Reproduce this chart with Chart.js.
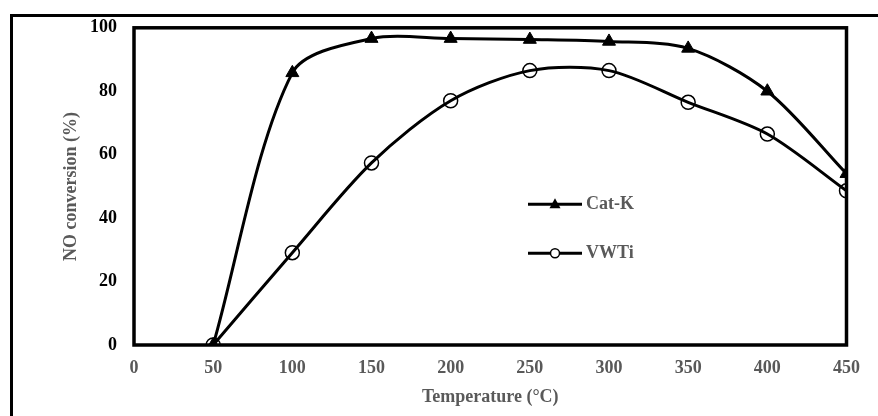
<!DOCTYPE html>
<html>
<head>
<meta charset="utf-8">
<script src="https://cdn.jsdelivr.net/npm/chart.js@4.4.1/dist/chart.umd.min.js"></script>
<style>
  html, body { margin: 0; padding: 0; background: #fff; }
  #wrap { width: 878px; height: 416px; position: relative; }
</style>
</head>
<body>
<div id="wrap"><canvas id="noChart"></canvas></div>
<script>
// Data
const temperatures = [50, 100, 150, 200, 250, 300, 350, 400, 450];
const catK = [0, 85.8, 96.6, 96.6, 96.3, 95.7, 93.5, 80, 54];
const vwti = [0, 29.1, 57.4, 77, 86.5, 86.5, 76.5, 66.5, 48.6];
const seriesNames = ["Cat-K", "VWTi"];
const xTicks = [0, 50, 100, 150, 200, 250, 300, 350, 400, 450];
const yTicks = [0, 20, 40, 60, 80, 100];

const grey = "#595959";
const fontFamily = "'Liberation Serif', 'Times New Roman', serif";

const toPoints = (values) => temperatures.map((t, i) => ({x: t, y: values[i]}));

// Frames: the outer box (cut off on right/bottom) and the plot box
const framePlugin = {
  id: 'frames',
  beforeDatasetsDraw(chart) {
    const ctx = chart.ctx;
    const a = chart.chartArea;
    ctx.save();
    ctx.strokeStyle = '#000';
    ctx.lineWidth = 3;
    ctx.strokeRect(11.5, 15.5, 900, 440);
    ctx.lineWidth = 3.5;
    ctx.strokeRect(a.left, a.top, a.right - a.left, a.bottom - a.top);
    ctx.restore();
  }
};

// Legend inside the plot
const legendPlugin = {
  id: 'innerLegend',
  afterDatasetsDraw(chart) {
    const ctx = chart.ctx;
    const a = chart.chartArea;
    const x0 = a.left + 394;
    const rows = [a.top + 176.5, a.top + 225.5];
    ctx.save();
    chart.data.datasets.forEach(function(ds, i) {
      const y = rows[i];
      ctx.strokeStyle = '#000';
      ctx.lineWidth = 3;
      ctx.beginPath();
      ctx.moveTo(x0, y);
      ctx.lineTo(x0 + 54, y);
      ctx.stroke();
      const cx = x0 + 27;
      if (ds.pointStyle === 'triangle') {
        ctx.fillStyle = '#000';
        ctx.beginPath();
        ctx.moveTo(cx, y - 6);
        ctx.lineTo(cx + 5.5, y + 4);
        ctx.lineTo(cx - 5.5, y + 4);
        ctx.closePath();
        ctx.fill();
      } else {
        ctx.fillStyle = '#fff';
        ctx.lineWidth = 1.5;
        ctx.beginPath();
        ctx.arc(cx, y, 4.5, 0, Math.PI * 2);
        ctx.fill();
        ctx.stroke();
      }
      ctx.fillStyle = grey;
      ctx.font = "bold 18px " + fontFamily;
      ctx.textBaseline = 'middle';
      ctx.fillText(ds.label, x0 + 58, y);
    });
    ctx.restore();
  }
};

const chart = new Chart(document.querySelector('#noChart'), {
  type: 'line',
  data: {
    datasets: [{
      label: seriesNames[0],
      data: toPoints(catK),
      borderColor: '#000',
      borderWidth: 3,
      backgroundColor: '#000',
      pointStyle: 'triangle',
      pointRadius: 7.5,
      pointBorderWidth: 1,
      pointBackgroundColor: '#000',
      pointBorderColor: '#000',
      tension: 0.3
    }, {
      label: seriesNames[1],
      data: toPoints(vwti),
      borderColor: '#000',
      borderWidth: 3,
      backgroundColor: '#fff',
      pointStyle: 'circle',
      pointRadius: 7,
      pointBorderWidth: 1.5,
      pointBackgroundColor: 'rgba(255,255,255,0)',
      pointBorderColor: '#000',
      tension: 0.3
    }]
  },
  options: {
    responsive: true,
    maintainAspectRatio: false,
    animation: false,
    events: [],
    layout: { padding: { top: 26.5, right: 31.5, left: 0, bottom: 0 } },
    plugins: {
      legend: { display: false },
      tooltip: { enabled: false }
    },
    scales: {
      x: {
        type: 'linear',
        min: 0,
        max: 450,
        afterBuildTicks: (scale) => { scale.ticks = xTicks.map(v => ({value: v})); },
        afterFit: (scale) => { scale.height = 416 - 345; },
        grid: { display: false, drawTicks: false },
        border: { display: false },
        ticks: {
          color: grey,
          padding: 13,
          maxRotation: 0,
          font: { family: fontFamily, size: 18, weight: 'bold' }
        },
        title: {
          display: true,
          text: 'Temperature (°C)',
          color: grey,
          padding: { top: 0, bottom: 8 },
          font: { family: fontFamily, size: 18, weight: 'bold' }
        }
      },
      y: {
        min: 0,
        max: 100,
        afterBuildTicks: (scale) => { scale.ticks = yTicks.map(v => ({value: v})); },
        afterFit: (scale) => { scale.width = 134; },
        grid: { display: false, drawTicks: false },
        border: { display: false },
        ticks: {
          color: '#000',
          padding: 17,
          font: { family: fontFamily, size: 18, weight: 'bold' }
        },
        title: {
          display: true,
          text: 'NO conversion (%)',
          color: grey,
          padding: { top: 61, bottom: 0 },
          font: { family: fontFamily, size: 18, weight: 'bold' }
        }
      }
    }
  },
  plugins: [framePlugin, legendPlugin]
});
</script>
</body>
</html>
